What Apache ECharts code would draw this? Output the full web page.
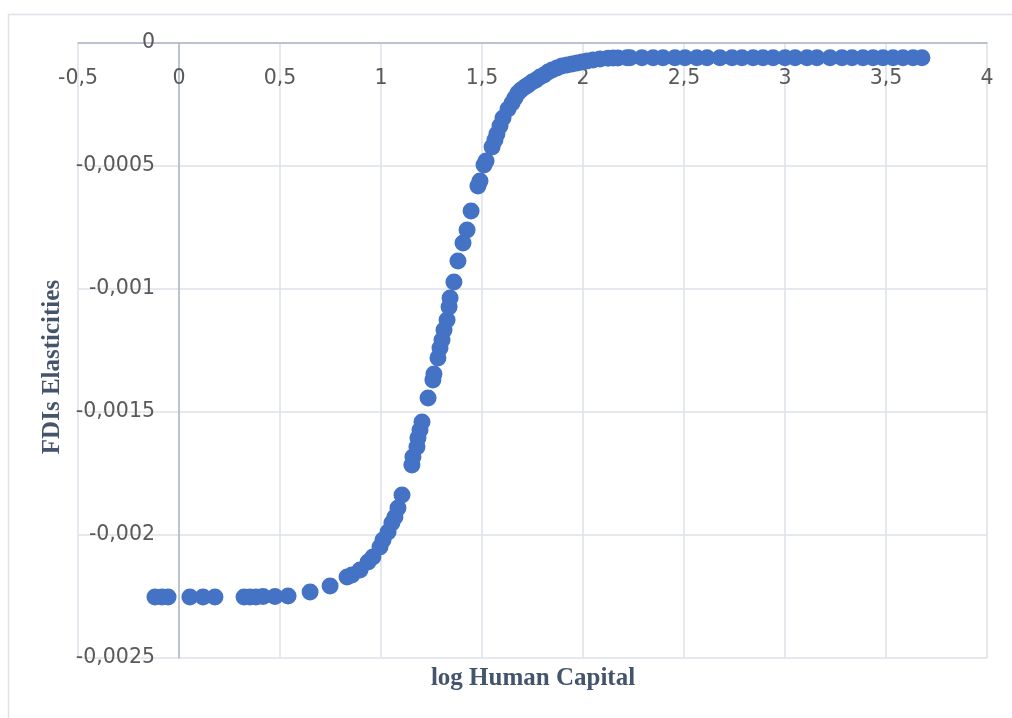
<!DOCTYPE html>
<html>
<head>
<meta charset="utf-8">
<script src="https://cdn.jsdelivr.net/npm/echarts@6/dist/echarts.min.js"></script>
<style>html,body{margin:0;padding:0;background:#fff;}#c{width:1012px;height:718px;}</style>
</head>
<body>
<div id="c"></div>
<script>
// log Human Capital
const xs = [
  -0.119, -0.084, -0.054, 0.054, 0.119, 0.178, 0.322, 0.351, 0.381, 0.416, 0.475, 0.540,
  0.649, 0.748, 0.832, 0.856, 0.896, 0.936, 0.960, 0.995, 1.010, 1.035, 1.054, 1.069, 1.084, 1.104,
  1.153, 1.158, 1.178, 1.183, 1.193, 1.203, 1.233, 1.257, 1.262, 1.282, 1.292, 1.302, 1.312, 1.327,
  1.337, 1.342, 1.361, 1.381, 1.406, 1.426, 1.446, 1.480, 1.490, 1.510, 1.520, 1.550, 1.564, 1.574,
  1.589, 1.604, 1.629, 1.649, 1.663, 1.678, 1.693, 1.713, 1.728, 1.748, 1.767, 1.787, 1.807, 1.827,
  1.847, 1.871, 1.896, 1.921, 1.946, 1.970, 1.995, 2.020, 2.050, 2.084, 2.124, 2.149, 2.173, 2.218,
  2.233, 2.292, 2.347, 2.396, 2.455, 2.505, 2.564, 2.614, 2.678, 2.738, 2.787, 2.842, 2.891, 2.941,
  3.000, 3.050, 3.109, 3.158, 3.223, 3.282, 3.332, 3.386, 3.436, 3.485, 3.535, 3.584, 3.634, 3.678
];
// FDIs Elasticities
const ys = [
  -0.002252, -0.002252, -0.002252, -0.002252, -0.002252, -0.002252, -0.002252, -0.002252, -0.002252, -0.002250, -0.002250, -0.002248,
  -0.002232, -0.002207, -0.002171, -0.002163, -0.002142, -0.002110, -0.002089, -0.002049, -0.002020, -0.001988, -0.001951, -0.001927, -0.001890, -0.001837,
  -0.001715, -0.001683, -0.001642, -0.001606, -0.001573, -0.001541, -0.001443, -0.001370, -0.001346, -0.001280, -0.001240, -0.001207, -0.001167, -0.001126,
  -0.001073, -0.001037, -0.000972, -0.000886, -0.000813, -0.000760, -0.000683, -0.000581, -0.000561, -0.000496, -0.000480, -0.000423, -0.000394, -0.000370,
  -0.000337, -0.000305, -0.000268, -0.000244, -0.000224, -0.000203, -0.000191, -0.000179, -0.000171, -0.000159, -0.000150, -0.000138, -0.000130, -0.000118,
  -0.000110, -0.000102, -0.000093, -0.000089, -0.000085, -0.000081, -0.000077, -0.000073, -0.000069, -0.000065, -0.000062, -0.000061, -0.000061, -0.000060,
  -0.000060, -0.000060, -0.000060, -0.000060, -0.000060, -0.000060, -0.000060, -0.000060, -0.000060, -0.000060, -0.000060, -0.000060, -0.000060, -0.000060,
  -0.000060, -0.000060, -0.000060, -0.000060, -0.000060, -0.000060, -0.000060, -0.000060, -0.000060, -0.000060, -0.000060, -0.000060, -0.000060, -0.000060
];
const xTitle = 'log Human Capital';
const yTitle = 'FDIs Elasticities';

const points = xs.map((x, i) => [x, ys[i]]);
const fmt = v => String(+Number(v).toFixed(4)).replace('.', ',');
const labelStyle = { color: '#595959', fontFamily: '"DejaVu Sans", sans-serif', fontSize: 20.5 };

const chart = echarts.init(document.getElementById('c'), null, { renderer: 'canvas' });
chart.setOption({
  animation: false,
  backgroundColor: '#fff',
  grid: { left: 78, right: 25, top: 43, bottom: 60, containLabel: false },
  xAxis: {
    type: 'value', position: 'top', min: -0.5, max: 4, interval: 0.5,
    axisLine: { show: true, onZero: true, lineStyle: { color: '#aeb7c4', width: 1.5 } },
    axisTick: { show: false },
    axisLabel: Object.assign({ inside: true, margin: 25, formatter: fmt, verticalAlign: 'top' }, labelStyle),
    splitLine: { show: true, lineStyle: { color: '#dde2e8', width: 1.5 } }
  },
  yAxis: {
    type: 'value', min: -0.0025, max: 0, interval: 0.0005,
    axisLine: { show: true, onZero: true, lineStyle: { color: '#aeb7c4', width: 1.5 } },
    axisTick: { show: false },
    axisLabel: Object.assign({ inside: true, margin: 77, align: 'right', formatter: fmt }, labelStyle),
    splitLine: { show: true, lineStyle: { color: '#dde2e8', width: 1.5 } }
  },
  series: [{
    type: 'scatter',
    data: points,
    symbolSize: 17,
    itemStyle: { color: '#4472C4', opacity: 1 }
  }],
  graphic: [
    { type: 'rect', silent: true, z: -10,
      shape: { x: 8.5, y: 14.5, width: 1100, height: 800 },
      style: { fill: 'none', stroke: '#dde2e8', lineWidth: 1.5 } },
    { type: 'text', x: 533, y: 679,
      style: { text: xTitle, fill: '#44546A', font: 'bold 25px "Liberation Serif", serif',
               textAlign: 'center', textVerticalAlign: 'middle' } },
    { type: 'text', x: 53, y: 367, rotation: Math.PI / 2,
      style: { text: yTitle, fill: '#44546A', font: 'bold 25px "Liberation Serif", serif',
               textAlign: 'center', textVerticalAlign: 'middle' } }
  ]
});
</script>
</body>
</html>
